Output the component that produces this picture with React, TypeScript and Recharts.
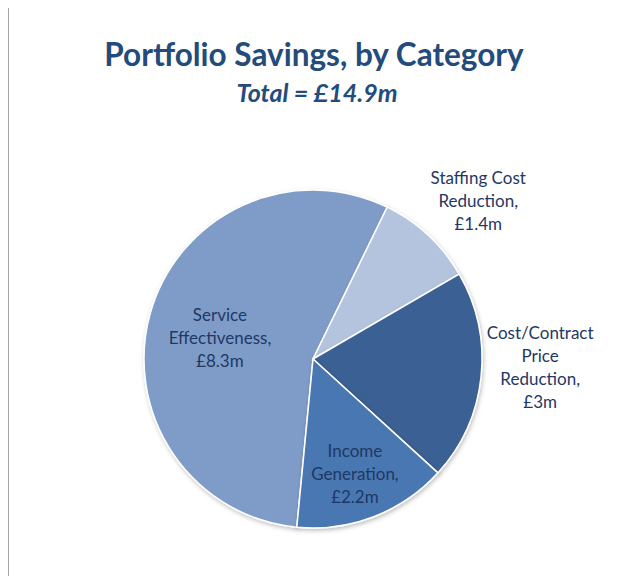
import { Cell, Pie, PieChart } from "recharts";

const categories = ["Service Effectiveness", "Staffing Cost Reduction", "Cost/Contract Price Reduction", "Income Generation"];
const savings = [8.3, 1.4, 3, 2.2];
const labelLines = [
  ["Service", "Effectiveness,", "£8.3m"],
  ["Staffing Cost", "Reduction,", "£1.4m"],
  ["Cost/Contract", "Price", "Reduction,", "£3m"],
  ["Income", "Generation,", "£2.2m"],
];

const colors = ["#7F9CC8", "#B4C4DF", "#3A6193", "#4A77B1"];
// label placement: distance from centre as a share of the radius, and a nudge off the slice's mid angle
const labelRadius = [0.566, 1.356, 1.345, 0.716];
const labelTurn = [2.4, -3.2, 4.2, -0.8];

const data = categories.map((name, i) => ({ name, value: savings[i] }));

const RAD = Math.PI / 180;
const FONT = "Lato, 'Open Sans', sans-serif";

function SliceLabel(props: any) {
  const { cx, cy, midAngle, outerRadius, index } = props;
  const r = outerRadius * labelRadius[index];
  const a = (midAngle + labelTurn[index]) * RAD;
  const x = cx + r * Math.cos(-a);
  const y = cy + r * Math.sin(-a);
  const lines = labelLines[index];
  const lh = 23;
  const top = y - ((lines.length - 1) * lh) / 2;
  return (
    <text x={x} y={top} textAnchor="middle" dominantBaseline="central" fill="#1F3864" fontSize={17} fontFamily={FONT}>
      {lines.map((l, i) => (
        <tspan key={i} x={x} y={top + i * lh}>
          {l}
        </tspan>
      ))}
    </text>
  );
}

export default function App() {
  return (
    <div style={{ position: "relative", width: 617, height: 584, margin: -8, background: "#fff", overflow: "hidden" }}>
      <div style={{ position: "absolute", left: 7, top: 6, width: 2, height: 578, background: "#A6A6A6" }} />
      <div
        style={{
          position: "absolute",
          left: 0,
          width: 628,
          top: 35,
          textAlign: "center",
          fontFamily: FONT,
          fontWeight: 700,
          fontSize: 31.5,
          lineHeight: "38px",
          color: "#234B7C",
        }}
      >
        Portfolio Savings, by Category
      </div>
      <div
        style={{
          position: "absolute",
          left: 0,
          width: 634,
          top: 77,
          textAlign: "center",
          fontFamily: FONT,
          fontWeight: 700,
          fontStyle: "italic",
          fontSize: 25,
          lineHeight: "30px",
          color: "#234B7C",
        }}
      >
        Total = £14.9m
      </div>
      <div style={{ position: "absolute", left: 0, top: 0 }}>
        <PieChart width={617} height={584} margin={{ top: 0, right: 0, bottom: 0, left: 0 }}>
          <defs>
            <filter id="shadow" x="-10%" y="-10%" width="120%" height="120%">
              <feDropShadow dx="1" dy="2" stdDeviation="2" floodColor="#000" floodOpacity="0.25" />
            </filter>
          </defs>
          <Pie
            data={data}
            dataKey="value"
            nameKey="name"
            cx={313}
            cy={359}
            outerRadius={169}
            startAngle={264.5}
            endAngle={-95.5}
            stroke="#fff"
            strokeWidth={1.5}
            label={SliceLabel}
            labelLine={false}
            isAnimationActive={false}
            style={{ filter: "url(#shadow)" }}
          >
            {data.map((d, i) => (
              <Cell key={d.name} fill={colors[i]} />
            ))}
          </Pie>
        </PieChart>
      </div>
    </div>
  );
}
